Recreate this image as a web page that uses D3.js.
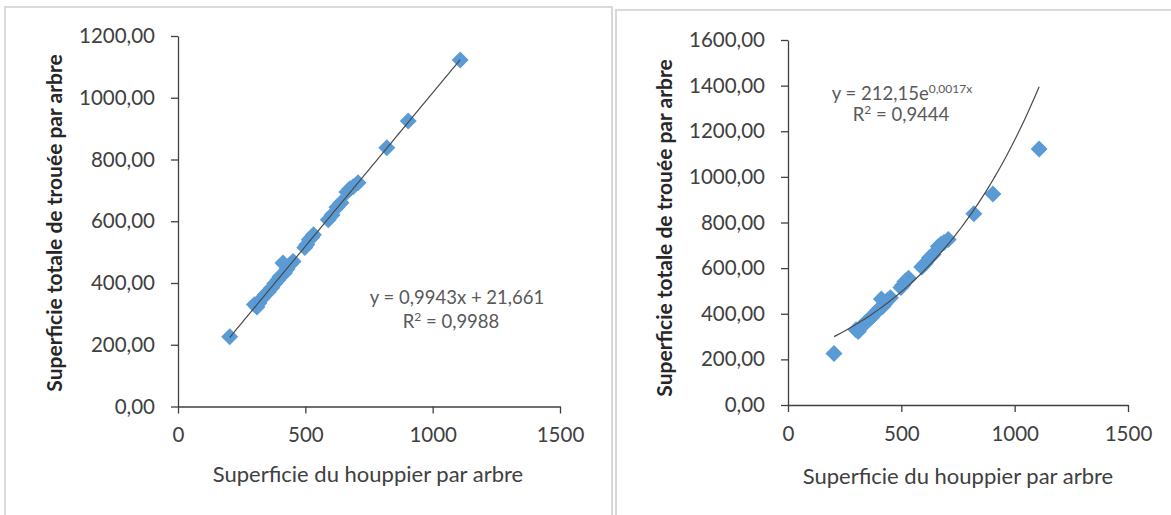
<!DOCTYPE html>
<html>
<head>
<meta charset="utf-8">
<script src="https://cdn.jsdelivr.net/npm/d3@7"></script>
<style>
    body { margin: 0; background: #fff; }
    svg { display: block; font-family: Lato, "Open Sans", sans-serif; }
</style>
</head>
<body>
<div id="chart"></div>
<script>
// Data: crown area vs total gap area per tree (same points in both panels)
const crownArea = [203, 300, 310, 318, 330, 342, 355, 368, 380, 392, 400, 412, 418, 428, 440, 452,
    498, 506, 515, 525, 532, 590, 605, 624, 640, 663, 675, 688, 707, 820, 904, 1108];
const gapArea = [226, 330, 322, 335, 350, 362, 372, 385, 398, 410, 420, 465, 432, 445, 460, 470,
    515, 525, 540, 548, 556, 605, 620, 645, 660, 695, 705, 712, 725, 838, 925, 1122];

const xTicks = [0, 500, 1000, 1500];
const yTicksLeft = [0, 200, 400, 600, 800, 1000, 1200];
const yTicksRight = [0, 200, 400, 600, 800, 1000, 1200, 1400, 1600];

// Trendline coefficients (from the chart labels)
const linSlope = 0.9943, linIntercept = 21.661;
const expA = 212.15, expB = 0.0017;

const xTitle = "Superficie du houppier par arbre";
const yTitle = "Superficie totale de trouée par arbre";

const width = 1171, height = 515;
const svg = d3.select("#chart").append("svg")
    .attr("width", width)
    .attr("height", height);

svg.append("rect").attr("width", width).attr("height", height).attr("fill", "#fff");

// panel frames
svg.append("rect")
    .attr("x", 5).attr("y", 7).attr("width", 607).attr("height", 520)
    .attr("fill", "none").attr("stroke", "#d9d9d9").attr("stroke-width", 2);
svg.append("rect")
    .attr("x", 616).attr("y", 10).attr("width", 600).attr("height", 520)
    .attr("fill", "none").attr("stroke", "#d9d9d9").attr("stroke-width", 2);

const points = crownArea.map((x, i) => ({ x: x, y: gapArea[i] }));
const yFmt = d => d3.format(".2f")(d).replace(".", ",");

function drawPanel(opts) {
    const x = d3.scaleLinear().domain([0, 1500]).range(opts.xRange);
    const y = d3.scaleLinear().domain([0, opts.yMax]).range(opts.yRange);
    const g = svg.append("g");

    // y axis
    const yAxis = g.append("g")
        .attr("transform", `translate(${opts.xRange[0]},0)`)
        .call(d3.axisLeft(y).tickValues(opts.yTicks).tickFormat(yFmt)
            .tickSize(7).tickSizeOuter(0).tickPadding(16));

    // x axis
    const xAxis = g.append("g")
        .attr("transform", `translate(0,${opts.yRange[0]})`)
        .call(d3.axisBottom(x).tickValues(xTicks).tickFormat(d3.format("d"))
            .tickSize(7).tickSizeOuter(0).tickPadding(14));

    [yAxis, xAxis].forEach(a => {
        a.selectAll("path, line").attr("stroke", "#404040").attr("stroke-width", 1.3);
        a.selectAll("text").attr("fill", "#404040").style("font-size", "20.5px")
            .style("font-family", "Lato, 'Open Sans', sans-serif");
    });

    // markers
    g.selectAll(".dot")
        .data(points)
        .join("rect")
        .attr("class", "dot")
        .attr("x", -6).attr("y", -6)
        .attr("width", 12).attr("height", 12)
        .attr("fill", "#5b9bd5")
        .attr("transform", d => `translate(${x(d.x)},${y(d.y)}) rotate(45)`);

    // trendline
    const [lo, hi] = d3.extent(crownArea);
    const trend = d3.range(0, 61).map(i => {
        const xv = lo + (hi - lo) * i / 60;
        return [xv, opts.fit(xv)];
    });
    g.append("path")
        .datum(trend)
        .attr("fill", "none")
        .attr("stroke", "#4a4a4a")
        .attr("stroke-width", 1.2)
        .attr("d", d3.line().x(d => x(d[0])).y(d => y(d[1])));

    // equation labels
    const eq = g.append("text")
        .attr("x", opts.eqPos[0]).attr("y", opts.eqPos[1])
        .attr("text-anchor", "middle")
        .attr("fill", "#595959")
        .style("font-size", "18.5px");
    opts.eqLine(eq);

    const r2 = g.append("text")
        .attr("x", opts.r2Pos[0]).attr("y", opts.r2Pos[1])
        .attr("text-anchor", "middle")
        .attr("fill", "#595959")
        .style("font-size", "18.5px");
    r2.append("tspan").text("R");
    r2.append("tspan").attr("dy", -7).style("font-size", "12px").text("2");
    r2.append("tspan").attr("dy", 7).text(" = " + opts.r2);

    // axis titles
    g.append("text")
        .attr("x", opts.xTitlePos[0]).attr("y", opts.xTitlePos[1])
        .attr("text-anchor", "middle")
        .attr("fill", "#404040")
        .style("font-size", "22px")
        .text(xTitle);

    g.append("text")
        .attr("transform", `translate(${opts.yTitlePos[0]},${opts.yTitlePos[1]}) rotate(-90)`)
        .attr("text-anchor", "middle")
        .attr("fill", "#262626")
        .style("font-size", "21px")
        .style("font-weight", "bold")
        .text(yTitle);
}

// Left: linear fit
drawPanel({
    xRange: [178, 560],
    yRange: [406.5, 36],
    yMax: 1200,
    yTicks: yTicksLeft,
    fit: v => linSlope * v + linIntercept,
    eqPos: [457, 304],
    eqLine: t => t.text("y = 0,9943x + 21,661"),
    r2Pos: [451, 328],
    r2: "0,9988",
    xTitlePos: [368, 482],
    yTitlePos: [62, 223]
});

// Right: exponential fit
drawPanel({
    xRange: [788, 1128],
    yRange: [405, 40],
    yMax: 1600,
    yTicks: yTicksRight,
    fit: v => expA * Math.exp(expB * v),
    eqPos: [902, 100],
    eqLine: t => {
        t.append("tspan").text("y = 212,15e");
        t.append("tspan").attr("dy", -7).style("font-size", "12px").text("0,0017x");
    },
    r2Pos: [901, 121],
    r2: "0,9444",
    xTitlePos: [958, 484],
    yTitlePos: [672, 228]
});
</script>
</body>
</html>
